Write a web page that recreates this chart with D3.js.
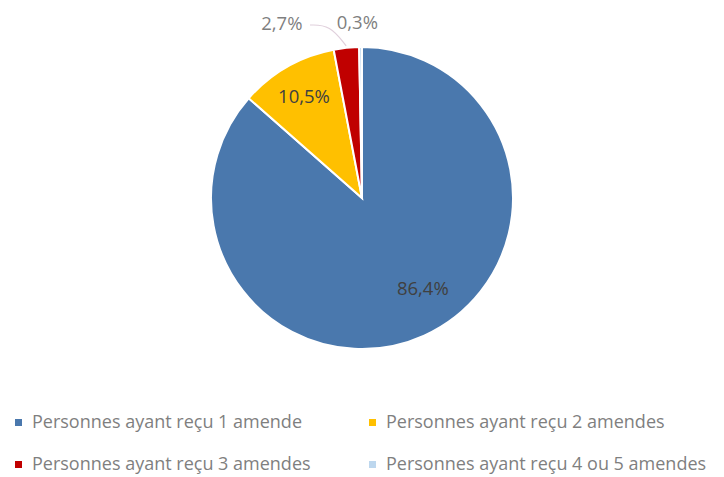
<!DOCTYPE html>
<html>
<head>
<meta charset="utf-8">
<script src="https://cdn.jsdelivr.net/npm/d3@7"></script>
<style>
  body { margin: 0; background: #fff; }
  text { font-family: "Open Sans", Lato, sans-serif; }
</style>
</head>
<body>
<svg id="chart" width="724" height="477"></svg>
<script>
const categories = [
  "Personnes ayant reçu 1 amende",
  "Personnes ayant reçu 2 amendes",
  "Personnes ayant reçu 3 amendes",
  "Personnes ayant reçu 4 ou 5 amendes"
];
const values = [86.4, 10.5, 2.7, 0.3];
const labels = ["86,4%", "10,5%", "2,7%", "0,3%"];
const colors = ["#4a78ad", "#ffc000", "#c00000", "#bdd7ee"];

const svg = d3.select("#chart");
const cx = 362, cy = 198, r = 151;

const pie = d3.pie().sort(null).value(d => d);
const arcs = pie(values);
const arc = d3.arc().innerRadius(0).outerRadius(r);

const g = svg.append("g").attr("transform", `translate(${cx},${cy})`);

g.selectAll("path")
  .data(arcs)
  .join("path")
  .attr("d", arc)
  .attr("fill", (d, i) => colors[i])
  .attr("stroke", "#fff")
  .attr("stroke-width", 2);

// inside labels for the two big slices (radius fraction + small nudge)
const inFrac = [0.72, 0.775];
const inNudge = [[16, -9], [0, 0]];
g.selectAll("text.in")
  .data(arcs.slice(0, 2))
  .join("text")
  .attr("class", "in")
  .attr("transform", (d, i) => {
    const c = d3.arc().innerRadius(r * inFrac[i]).outerRadius(r * inFrac[i]).centroid(d);
    return `translate(${c[0] + inNudge[i][0]},${c[1] + inNudge[i][1]})`;
  })
  .attr("text-anchor", "middle")
  .attr("dy", "0.35em")
  .attr("font-size", 18.5)
  .attr("fill", "#404040")
  .text((d, i) => labels[i]);

// outside labels for the two small slices
const outR = r + 24;
const outShift = [0, 0, -62, -3];
arcs.slice(2).forEach((d, k) => {
  const i = k + 2;
  const a = (d.startAngle + d.endAngle) / 2;
  g.append("text")
    .attr("x", Math.sin(a) * outR + outShift[i])
    .attr("y", -Math.cos(a) * outR)
    .attr("text-anchor", "middle")
    .attr("dy", "0.35em")
    .attr("font-size", 18.5)
    .attr("fill", "#7f7f7f")
    .text(labels[i]);
});

// leader line for the 2,7% label
const red = arcs[2];
const ra = (red.startAngle + red.endAngle) / 2;
const edge = [Math.sin(ra) * (r + 2), -Math.cos(ra) * (r + 2)];
g.append("path")
  .attr("d", d3.line().curve(d3.curveBasis)([[-52, -r - 22], [-32, -r - 22], edge]))
  .attr("fill", "none")
  .attr("stroke", "#e0d0dc")
  .attr("stroke-width", 1.2);

// legend
const legX = [18, 372], legY = [422, 464];
const leg = svg.append("g");
categories.forEach((c, i) => {
  const x = legX[i % 2], y = legY[Math.floor(i / 2)];
  leg.append("rect")
    .attr("x", x - 3).attr("y", y - 3)
    .attr("width", 7).attr("height", 7)
    .attr("fill", colors[i]);
  leg.append("text")
    .attr("x", x + 14).attr("y", y)
    .attr("dy", "0.35em")
    .attr("font-size", 18)
    .attr("fill", "#7f7f7f")
    .text(c);
});
</script>
</body>
</html>
